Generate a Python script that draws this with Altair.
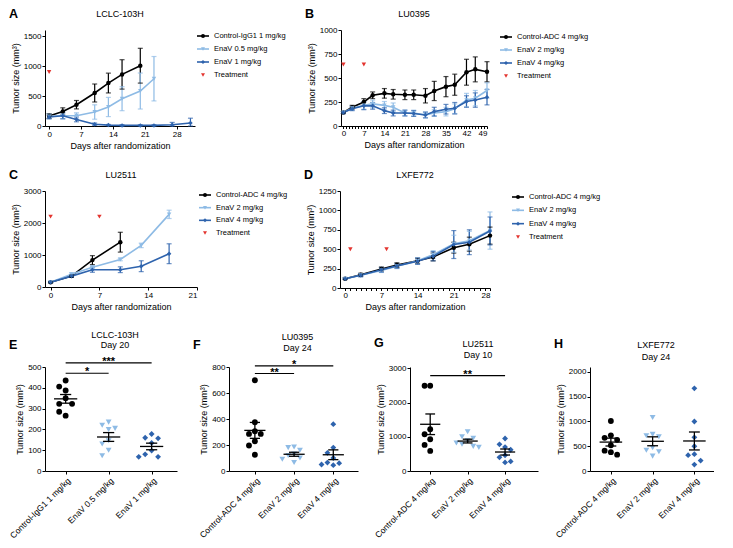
import altair as alt
import pandas as pd
import numpy as np

FONT = "Liberation Sans"
BLACK = "#000000"
LIGHT = "#8ebbe5"
DARK = "#2e63ad"
RED = "#e3342f"

# ---------------- Panel A : LCLC-103H ----------------
A_GROUPS = ["Control-IgG1 1 mg/kg", "EnaV 0.5 mg/kg", "EnaV 1 mg/kg"]
a_ctrl_days = [0, 3, 6, 10, 13, 16, 20]
a_ctrl_mean = [167, 243, 355, 550, 716, 860, 1005]
a_ctrl_err = [40, 60, 70, 150, 165, 245, 290]
a_low_days = [0, 3, 6, 10, 13, 16, 20, 23]
a_low_mean = [160, 170, 170, 233, 317, 455, 583, 788]
a_low_err = [40, 50, 50, 120, 160, 200, 300, 370]
a_high_days = [0, 3, 6, 10, 13, 16, 20, 23, 27, 31]
a_high_mean = [150, 170, 110, 30, 15, 10, 10, 10, 20, 50]
a_high_err = [30, 50, 40, 20, 10, 10, 10, 10, 40, 80]
a_treat_days = [0]
a_treat_y = [900]

# ---------------- Panel B : LU0395 ----------------
ADC_GROUPS = ["Control-ADC 4 mg/kg", "EnaV 2 mg/kg", "EnaV 4 mg/kg"]
b_days = [0, 3, 7, 10, 14, 17, 21, 24, 28, 31, 35, 38, 42, 45, 49]
b_ctrl = [140, 195, 250, 320, 340, 330, 325, 325, 315, 365, 410, 430, 560, 590, 565]
b_ctrl_err = [10, 20, 35, 35, 50, 50, 50, 50, 75, 100, 105, 110, 135, 130, 105]
b_low = [140, 185, 215, 230, 215, 195, 135, 135, 115, 135, 150, 180, 270, 290, 370]
b_low_err = [10, 20, 40, 40, 40, 45, 30, 30, 30, 35, 45, 50, 70, 80, 80]
b_high = [140, 180, 210, 210, 160, 135, 135, 130, 115, 150, 175, 185, 255, 270, 300]
b_high_err = [10, 20, 40, 35, 30, 30, 30, 30, 30, 45, 50, 60, 60, 75, 80]
b_treat_days = [0, 7]
b_treat_y = [640, 640]

# ---------------- Panel C : LU2511 ----------------
c_ctrl_days = [0, 3, 6, 10]
c_ctrl = [150, 340, 840, 1400]
c_ctrl_err = [20, 40, 140, 310]
c_low_days = [0, 3, 6, 10, 13, 17]
c_low = [150, 400, 620, 860, 1300, 2270]
c_low_err = [20, 40, 40, 40, 70, 130]
c_high_days = [0, 3, 6, 10, 13, 17]
c_high = [150, 340, 540, 540, 650, 1040]
c_high_err = [20, 40, 80, 90, 170, 310]
c_treat_days = [0, 7]
c_treat_y = [2200, 2200]

# ---------------- Panel D : LXFE772 ----------------
d_days = [0, 3, 7, 10, 14, 17, 21, 24, 28]
d_ctrl = [120, 170, 245, 295, 350, 400, 520, 565, 675]
d_ctrl_err = [10, 20, 25, 30, 35, 50, 70, 90, 110]
d_low = [120, 165, 225, 280, 350, 430, 570, 610, 740]
d_low_err = [10, 20, 25, 30, 40, 50, 110, 120, 240]
d_high = [120, 165, 235, 285, 345, 410, 560, 590, 735]
d_high_err = [10, 20, 30, 30, 40, 60, 180, 160, 180]
d_treat_days = [1, 8]
d_treat_y = [500, 500]

# ---------------- Scatter panels (individual tumours) ----------------
e_ctrl = [435, 406, 387, 350, 323, 323, 266, 285]
e_low = [235, 220, 205, 200, 145, 130, 100, 73]
e_high = [178, 160, 157, 135, 98, 80, 68, 68]
e_sig = [(0, 1, 470, "*"), (0, 2, 520, "***")]

f_ctrl = [698, 375, 306, 285, 285, 229, 196, 125]
f_low = [185, 180, 160, 130, 120, 100, 90, 65]
f_high = [360, 180, 140, 100, 65, 60, 50, 45]
f_sig = [(0, 1, 750, "**"), (0, 2, 808, "*")]

g_ctrl = [2493, 2493, 1222, 1075, 929, 762, 587]
g_low = [1150, 1000, 960, 880, 820, 780, 720, 690]
g_high = [950, 780, 700, 620, 460, 400, 280, 250]
g_sig = [(0, 2, 2790, "**")]

h_ctrl = [1010, 720, 670, 630, 520, 410, 380, 330]
h_low = [1080, 740, 710, 690, 470, 420, 390, 300]
h_high = [1670, 1000, 680, 500, 340, 320, 210, 130]
h_sig = []

YTITLE = "Tumor size (mm³)"
XTITLE = "Days after randomization"


def text_layer(txt, dx, dy, size, weight="normal", align="left"):
    return alt.Chart(pd.DataFrame({"t": [txt]})).mark_text(
        font=FONT, fontSize=size, fontWeight=weight, align=align, baseline="middle", color="black"
    ).encode(text="t:N", x=alt.value(dx), y=alt.value(dy))


def line_panel(letter, title, groups, series, tdays, ty, xdom, xticks, minor, ydom, yticks, w, h,
               leg_x, leg_y):
    rows = []
    for g, (days, means, errs) in zip(groups, series):
        for d, m, e in zip(days, means, errs):
            rows.append(dict(group=g, day=d, mean=m, lo=max(m - e, 0), hi=m + e))
    df = pd.DataFrame(rows)
    tdf = pd.DataFrame({"group": ["Treatment"] * len(tdays), "day": tdays, "mean": ty})
    dom = groups + ["Treatment"]
    cs = alt.Scale(domain=dom, range=[BLACK, LIGHT, DARK, RED])
    ss = alt.Scale(domain=dom, range=["circle", "triangle-down", "diamond", "triangle-down"])
    if minor:
        vals = list(range(0, xdom[1] + 1))
        xax = alt.Axis(values=vals, title=XTITLE, format="d", labelOverlap=False,
                       labelExpr="datum.value % 7 == 0 ? datum.label : ''", tickSize=2.5)
    else:
        xax = alt.Axis(values=xticks, title=XTITLE, format="d")
    yax = alt.Axis(values=yticks, title=YTITLE, format="d")
    xs = alt.Scale(domain=xdom, nice=False, zero=False)
    ys = alt.Scale(domain=ydom, nice=False)
    X = alt.X("day:Q", scale=xs, axis=xax)
    C = alt.Color("group:N", scale=cs, legend=None)
    base = alt.Chart(df)
    err = base.mark_rule(strokeWidth=1.2).encode(x=X, y=alt.Y("lo:Q", scale=ys, axis=yax), y2="hi:Q", color=C)
    cap_lo = base.mark_tick(orient="horizontal", size=5, thickness=1.2).encode(
        x=X, y=alt.Y("lo:Q", scale=ys, axis=yax), color=C)
    cap_hi = base.mark_tick(orient="horizontal", size=5, thickness=1.2).encode(
        x=X, y=alt.Y("hi:Q", scale=ys, axis=yax), color=C)
    line = base.mark_line(strokeWidth=1.6).encode(x=X, y=alt.Y("mean:Q", scale=ys, axis=yax), color=C)
    pts = alt.Chart(pd.concat([df, tdf], ignore_index=True)).mark_point(filled=True, size=20, opacity=1).encode(
        x=X, y=alt.Y("mean:Q", scale=ys, axis=yax), color=C,
        shape=alt.Shape("group:N", scale=ss, legend=None))
    # hand-made legend (line + marker + label), one row per group
    ldf = pd.DataFrame({"group": dom})
    LY = alt.Y("group:N", scale=alt.Scale(type="point", domain=dom, range=leg_y, padding=0), axis=None)
    lrule = alt.Chart(ldf).transform_filter(alt.datum.group != "Treatment").mark_rule(strokeWidth=1.6).encode(
        x=alt.value(w + leg_x), x2=alt.value(w + leg_x + 12), y=LY, color=C)
    lpt = alt.Chart(ldf).mark_point(filled=True, size=16, opacity=1).encode(
        x=alt.value(w + leg_x + 6), y=LY, color=C, shape=alt.Shape("group:N", scale=ss, legend=None))
    ltxt = alt.Chart(ldf).mark_text(font=FONT, fontSize=7.5, align="left", baseline="middle", color="black").encode(
        x=alt.value(w + leg_x + 17), y=LY, text="group:N")
    main = alt.layer(err, cap_lo, cap_hi, line, pts,
                     text_layer(letter, -36, -16, 12.5, "bold"),
                     text_layer(title, w / 2, -16, 9, align="center"))
    leg = alt.layer(lrule, lpt, ltxt)
    return alt.layer(main, leg).resolve_scale(y="independent").properties(width=w, height=h)


def swarm(values, ymax, tol, step):
    placed = []
    offs = []
    for v in values:
        o = 0
        for k in [0, -1, 1, -2, 2, -3, 3]:
            o = k * step
            ok = all(abs(v - pv) > tol * ymax or abs(o - po) > step * 0.95 for pv, po in placed)
            if ok:
                break
        placed.append((v, o))
        offs.append(o)
    return offs


def scatter_panel(letter, title_lines, groups, vals, ydom, yticks, sigs, xdom, w, h, ly, ty):
    cols = [BLACK, LIGHT, DARK]
    shapes = ["circle", "triangle-down", "diamond"]
    prow = []
    srow = []
    for i, (g, vs) in enumerate(zip(groups, vals)):
        offs = swarm(vs, ydom[1], 6.5 / h, 0.15)
        for v, o in zip(vs, offs):
            prow.append(dict(group=g, pos=i + o, value=v))
        arr = np.array(vs, dtype=float)
        m = arr.mean()
        se = arr.std(ddof=1) / np.sqrt(len(arr))
        srow.append(dict(idx=i, mean=m, lo=m - se, hi=m + se,
                         m0=i - 0.27, m1=i + 0.27, c0=i - 0.13, c1=i + 0.13))
    pdf = pd.DataFrame(prow)
    sdf = pd.DataFrame(srow)
    label_expr = " : ".join(f"datum.value == {i} ? '{g}'" for i, g in enumerate(groups)) + " : ''"
    xs = alt.Scale(domain=xdom, nice=False, zero=False)
    ys = alt.Scale(domain=ydom, nice=False)
    xax = alt.Axis(values=[0, 1, 2], labelExpr=label_expr, labelAngle=315, labelAlign="right",
                   labelBaseline="top", title=None, labelPadding=2, labelFontSize=8.5,
                   labelOverlap=False, labelBound=False, labelFlush=False)
    yax = alt.Axis(values=yticks, title=YTITLE, format="d")
    cs = alt.Scale(domain=groups, range=cols)
    ss = alt.Scale(domain=groups, range=shapes)
    pts = alt.Chart(pdf).mark_point(filled=True, size=34, opacity=1).encode(
        x=alt.X("pos:Q", scale=xs, axis=xax), y=alt.Y("value:Q", scale=ys, axis=yax),
        color=alt.Color("group:N", scale=cs, legend=None),
        shape=alt.Shape("group:N", scale=ss, legend=None))
    sb = alt.Chart(sdf)
    mean = sb.mark_rule(color="black", strokeWidth=1.3).encode(
        x=alt.X("m0:Q", scale=xs, axis=xax), x2="m1:Q", y=alt.Y("mean:Q", scale=ys, axis=yax))
    vert = sb.mark_rule(color="black", strokeWidth=1.3).encode(
        x=alt.X("idx:Q", scale=xs, axis=xax), y=alt.Y("lo:Q", scale=ys, axis=yax), y2="hi:Q")
    clo = sb.mark_rule(color="black", strokeWidth=1.3).encode(
        x=alt.X("c0:Q", scale=xs, axis=xax), x2="c1:Q", y=alt.Y("lo:Q", scale=ys, axis=yax))
    chi = sb.mark_rule(color="black", strokeWidth=1.3).encode(
        x=alt.X("c0:Q", scale=xs, axis=xax), x2="c1:Q", y=alt.Y("hi:Q", scale=ys, axis=yax))
    layers = [pts, mean, vert, clo, chi]
    if sigs:
        gdf = pd.DataFrame([dict(a=a, b=b, y=y, s=s, mid=(a + b) / 2) for a, b, y, s in sigs])
        sr = alt.Chart(gdf).mark_rule(color="black", strokeWidth=1.2).encode(
            x=alt.X("a:Q", scale=xs, axis=xax), x2="b:Q", y=alt.Y("y:Q", scale=ys, axis=yax))
        st = alt.Chart(gdf).mark_text(font=FONT, fontSize=11, fontWeight="bold", baseline="middle", dy=-1).encode(
            x=alt.X("mid:Q", scale=xs, axis=xax), y=alt.Y("y:Q", scale=ys, axis=yax), text="s:N")
        layers += [sr, st]
    layers.append(text_layer(letter, -36, ly, 12.5, "bold"))
    layers.append(text_layer(title_lines[0], w / 2 + 4, ty[0], 9, align="center"))
    layers.append(text_layer(title_lines[1], w / 2 + 4, ty[1], 9, align="center"))
    return alt.layer(*layers).properties(width=w, height=h)


A = line_panel("A", "LCLC-103H", A_GROUPS,
               [(a_ctrl_days, a_ctrl_mean, a_ctrl_err), (a_low_days, a_low_mean, a_low_err),
                (a_high_days, a_high_mean, a_high_err)],
               a_treat_days, a_treat_y, [-0.9, 32], [0, 7, 14, 21, 28], False, [0, 1600], [0, 500, 1000, 1500],
               150, 96, 2, [6, 45])
B = line_panel("B", "LU0395", ADC_GROUPS,
               [(b_days, b_ctrl, b_ctrl_err), (b_days, b_low, b_low_err), (b_days, b_high, b_high_err)],
               b_treat_days, b_treat_y, [-0.8, 49], [0, 7, 14, 21, 28, 35, 42, 49], True, [0, 1000],
               [0, 250, 500, 750, 1000], 146, 96, 13, [7, 46])
C = line_panel("C", "LU2511", ADC_GROUPS,
               [(c_ctrl_days, c_ctrl, c_ctrl_err), (c_low_days, c_low, c_low_err), (c_high_days, c_high, c_high_err)],
               c_treat_days, c_treat_y, [-0.8, 21], [0, 7, 14, 21], False, [0, 3000], [0, 1000, 2000, 3000],
               152, 96, 2, [4, 42])
D = line_panel("D", "LXFE772", ADC_GROUPS,
               [(d_days, d_ctrl, d_ctrl_err), (d_days, d_low, d_low_err), (d_days, d_high, d_high_err)],
               d_treat_days, d_treat_y, [-1, 28], [0, 7, 14, 21, 28], True, [0, 1250],
               [0, 250, 500, 750, 1000, 1250], 150, 97, 22, [6, 46])

E = scatter_panel("E", ["LCLC-103H", "Day 20"], A_GROUPS, [e_ctrl, e_low, e_high], [0, 500],
                  [0, 100, 200, 300, 400, 500], e_sig, [-0.48, 2.59], 132, 104, -22, [-32, -22])
F = scatter_panel("F", ["LU0395", "Day 24"], ADC_GROUPS, [f_ctrl, f_low, f_high], [0, 800],
                  [0, 200, 400, 600, 800], f_sig, [-0.66, 2.63], 129, 104, -22, [-30, -19])
G = scatter_panel("G", ["LU2511", "Day 10"], ADC_GROUPS, [g_ctrl, g_low, g_high], [0, 3040],
                  [0, 1000, 2000, 3000], g_sig, [-0.54, 2.88], 128, 104, -24, [-23, -12])
H = scatter_panel("H", ["LXFE772", "Day 24"], ADC_GROUPS, [h_ctrl, h_low, h_high], [0, 2100],
                  [0, 500, 1000, 1500, 2000], h_sig, [-0.5, 2.47], 124, 104, -23, [-22, -10])

row1 = alt.hconcat(A, B, spacing=146, bounds="flush")
row2 = alt.hconcat(C, D, spacing=143, bounds="flush")
row3 = alt.hconcat(E, F, G, H, spacing=52, bounds="flush")

chart = alt.vconcat(row1, row2, row3, spacing=19, padding=0).configure(font=FONT).configure_view(
    stroke=None
).configure_axis(
    domainColor="black", tickColor="black", labelColor="black", titleColor="black",
    labelFont=FONT, titleFont=FONT, labelFontSize=8, titleFontSize=9, titleFontWeight="normal",
    grid=False, tickSize=3, labelPadding=1, titlePadding=3, domainWidth=1, tickWidth=1
)

chart.save("out.html", embed_options={"renderer": "svg", "actions": False})
